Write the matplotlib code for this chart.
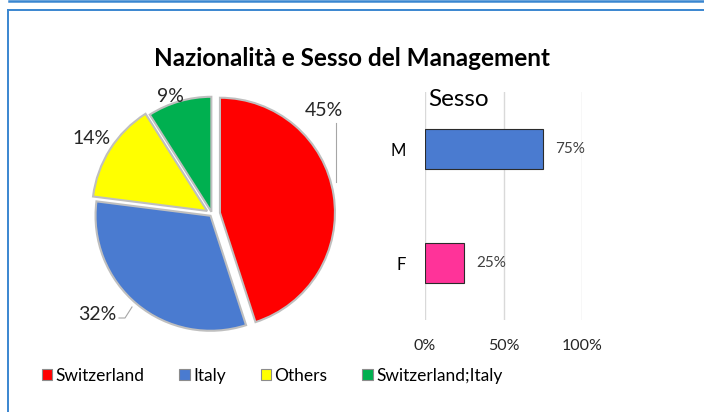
import numpy as np
import matplotlib
matplotlib.use('Agg')
from matplotlib import pyplot as plt
from matplotlib.lines import Line2D

plt.rcParams['font.family'] = ['Lato', 'DejaVu Sans']

# data
countries = ['Switzerland', 'Italy', 'Others', 'Switzerland;Italy']
country_pct = [45, 32, 14, 9]
country_colors = ['#FF0000', '#4A7BD0', '#FFFF00', '#00B050']

sexes = ['M', 'F']
sex_share = [0.75, 0.25]
sex_colors = ['#4A7BD0', '#FF3399']
x_ticks = [0, 0.5, 1.0]
x_ticklabels = ['0%', '50%', '100%']

W, H = 704, 412
fig = plt.figure(figsize=(W / 100, H / 100), dpi=100)

def fx(px):
    return px / W

def fy(py):
    return 1 - py / H

# frame lines
fig.add_artist(Line2D([fx(9), 1], [fy(0.8), fy(0.8)], color='#3A86D0', lw=1.8))
fig.add_artist(Line2D([fx(8), 1], [fy(9.5), fy(9.5)], color='#3A86D0', lw=1.4))
fig.add_artist(Line2D([fx(8), fx(8)], [fy(9.5), 0], color='#3A86D0', lw=1.4))

fig.text(fx(352), fy(58), 'Nazionalità e Sesso del Management', ha='center', va='center',
         fontsize=17.5, fontweight='bold')

# pie
cx, cy, r = 212, 214, 115
span = 1.3
size = 2 * span * r
ax = fig.add_axes([fx(cx - size / 2), fy(cy + size / 2), size / W, size / H])
ax.axis('off')
wedges, _ = ax.pie(country_pct, colors=country_colors, startangle=90, counterclock=False,
                   explode=[0.07, 0.02, 0.05, 0.02], radius=1.0,
                   wedgeprops=dict(edgecolor='#BFBFBF', linewidth=1.5))
ax.set_aspect('equal')
ax.set_xlim(-span, span)
ax.set_ylim(-span, span)

def to_data(px, py):
    return (px - cx) / r, (cy - py) / r

label_px = [(324, 110), (97, 314), (92, 139), (170, 97)]
for pct, (px, py) in zip(country_pct, label_px):
    lx, ly = to_data(px, py)
    ax.text(lx, ly, f'{pct}%', ha='center', va='center', fontsize=14, color='#262626')
l1 = [to_data(336, 123), to_data(336, 182)]
ax.plot([p[0] for p in l1], [p[1] for p in l1], color='#A6A6A6', lw=0.8)
l2 = [to_data(119, 318), to_data(125, 318), to_data(132, 307)]
ax.plot([p[0] for p in l2], [p[1] for p in l2], color='#A6A6A6', lw=0.8)

# bars
bx = fig.add_axes([fx(425), fy(320), 157 / W, 228 / H])
ypos = np.arange(len(sexes))
bars = bx.barh(ypos, sex_share, height=0.35, color=sex_colors, edgecolor='#2B2B2B', linewidth=0.8)
bx.set_ylim(1.5, -0.5)
bx.set_xlim(0, 1.0)
bx.set_yticks(ypos)
bx.set_yticklabels(sexes, fontsize=12)
bx.set_xticks(x_ticks)
bx.set_xticklabels(x_ticklabels, fontsize=11.5, color='#262626')
bx.tick_params(length=0, axis='x', pad=14)
bx.tick_params(length=0, axis='y', pad=14)
bx.grid(axis='x', color='#D9D9D9', lw=1)
bx.set_axisbelow(True)
for s in bx.spines.values():
    s.set_visible(False)
for b, v in zip(bars, sex_share):
    bx.text(v + 0.076, b.get_y() + b.get_height() / 2, f'{int(v * 100)}%', va='center',
            ha='left', fontsize=11, color='#404040')
fig.text(fx(428), fy(100), 'Sesso', ha='left', va='center', fontsize=17.5)

# legend
handles = [plt.Rectangle((0, 0), 1, 1, facecolor=c, edgecolor='#8C8C8C', lw=0.8) for c in country_colors]
fig.legend(handles, countries, loc='center', bbox_to_anchor=(fx(272), fy(376)), ncol=4,
           frameon=False, fontsize=12.5, handlelength=0.6, handleheight=0.6, handletextpad=0.2,
           columnspacing=2.0)

fig.savefig('out.png', dpi=100)
